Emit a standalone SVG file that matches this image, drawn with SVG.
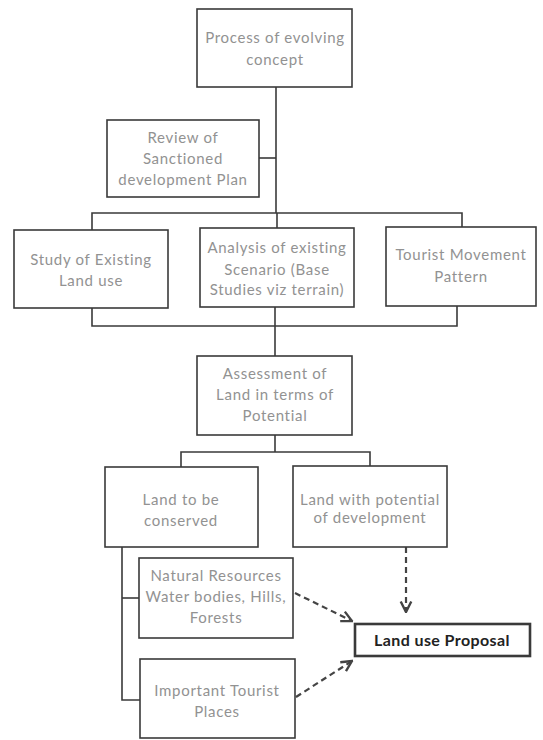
<svg xmlns="http://www.w3.org/2000/svg" width="543" height="740" viewBox="0 0 543 740">
<style>
.box{fill:#fff;stroke:#3a3a3a;stroke-width:1.6}
.t{font-family:Lato,"Open Sans","Liberation Sans",sans-serif;font-size:15px;fill:#929292;text-anchor:middle;letter-spacing:0.7px}
.c{fill:none;stroke:#3a3a3a;stroke-width:1.6}
.d{fill:none;stroke:#444;stroke-width:2.2;stroke-dasharray:6,4}
.b{font-family:Lato,"Open Sans","Liberation Sans",sans-serif;font-size:16px;font-weight:bold;fill:#222;text-anchor:middle;letter-spacing:0.4px}
</style>
<defs>
<marker id="arr" viewBox="0 0 10 10" refX="9" refY="5" markerWidth="6" markerHeight="6" orient="auto" markerUnits="strokeWidth">
<path d="M1,1 L9,5 L1,9" fill="none" stroke="#444" stroke-width="1.8"/>
</marker>
</defs>
<rect width="543" height="740" fill="#fff"/>
<g id="connectors">
<path class="c" d="M276,87 V213"/>
<path class="c" d="M259,158 H276"/>
<path class="c" d="M92,230 V213 H462 V227"/>
<path class="c" d="M277,213 V228"/>
<path class="c" d="M92,308 V326 H457 V306"/>
<path class="c" d="M275,307 V356"/>
<path class="c" d="M275,435 V452"/>
<path class="c" d="M181,467 V452 H370 V466"/>
<path class="c" d="M122,547 V700 H140"/>
<path class="c" d="M122,598 H139"/>
<path class="d" d="M406,547 V612" marker-end="url(#arr)"/>
<path class="d" d="M295,593 L352,621" marker-end="url(#arr)"/>
<path class="d" d="M296,697 L352,661" marker-end="url(#arr)"/>
</g>
<g id="n1"><rect class="box" x="197" y="9" width="155" height="78"/>
<text class="t" x="275" y="43">Process of evolving</text><text class="t" x="275" y="65">concept</text></g>
<g id="n2"><rect class="box" x="107" y="120" width="152" height="77"/>
<text class="t" x="183" y="143">Review of</text><text class="t" x="183" y="164">Sanctioned</text><text class="t" x="183" y="185">development Plan</text></g>
<g id="n3"><rect class="box" x="14" y="230" width="154" height="78"/>
<text class="t" x="91" y="265">Study of Existing</text><text class="t" x="91" y="286">Land use</text></g>
<g id="n4"><rect class="box" x="200" y="228" width="154" height="79"/>
<text class="t" x="277" y="253">Analysis of existing</text><text class="t" x="277" y="275">Scenario (Base</text><text class="t" x="277" y="295">Studies viz terrain)</text></g>
<g id="n5"><rect class="box" x="386" y="227" width="150" height="79"/>
<text class="t" x="461" y="260">Tourist Movement</text><text class="t" x="461" y="282">Pattern</text></g>
<g id="n6"><rect class="box" x="197" y="356" width="155" height="79"/>
<text class="t" x="275" y="379">Assessment of</text><text class="t" x="275" y="400">Land in terms of</text><text class="t" x="275" y="421">Potential</text></g>
<g id="n7"><rect class="box" x="105" y="467" width="153" height="80"/>
<text class="t" x="181" y="505">Land to be</text><text class="t" x="181" y="526">conserved</text></g>
<g id="n8"><rect class="box" x="293" y="466" width="154" height="81"/>
<text class="t" x="370" y="505">Land with potential</text><text class="t" x="370" y="523">of development</text></g>
<g id="n9"><rect class="box" x="139" y="558" width="154" height="80"/>
<text class="t" x="216" y="581">Natural Resources</text><text class="t" x="216" y="602">Water bodies, Hills,</text><text class="t" x="216" y="623">Forests</text></g>
<g id="n10"><rect class="box" x="140" y="659" width="155" height="79"/>
<text class="t" x="217" y="696">Important Tourist</text><text class="t" x="217" y="717">Places</text></g>
<g id="n11"><rect class="box" x="355" y="624" width="175" height="32" style="stroke-width:2.6"/>
<text class="b" x="442" y="646">Land use Proposal</text></g>
</svg>
